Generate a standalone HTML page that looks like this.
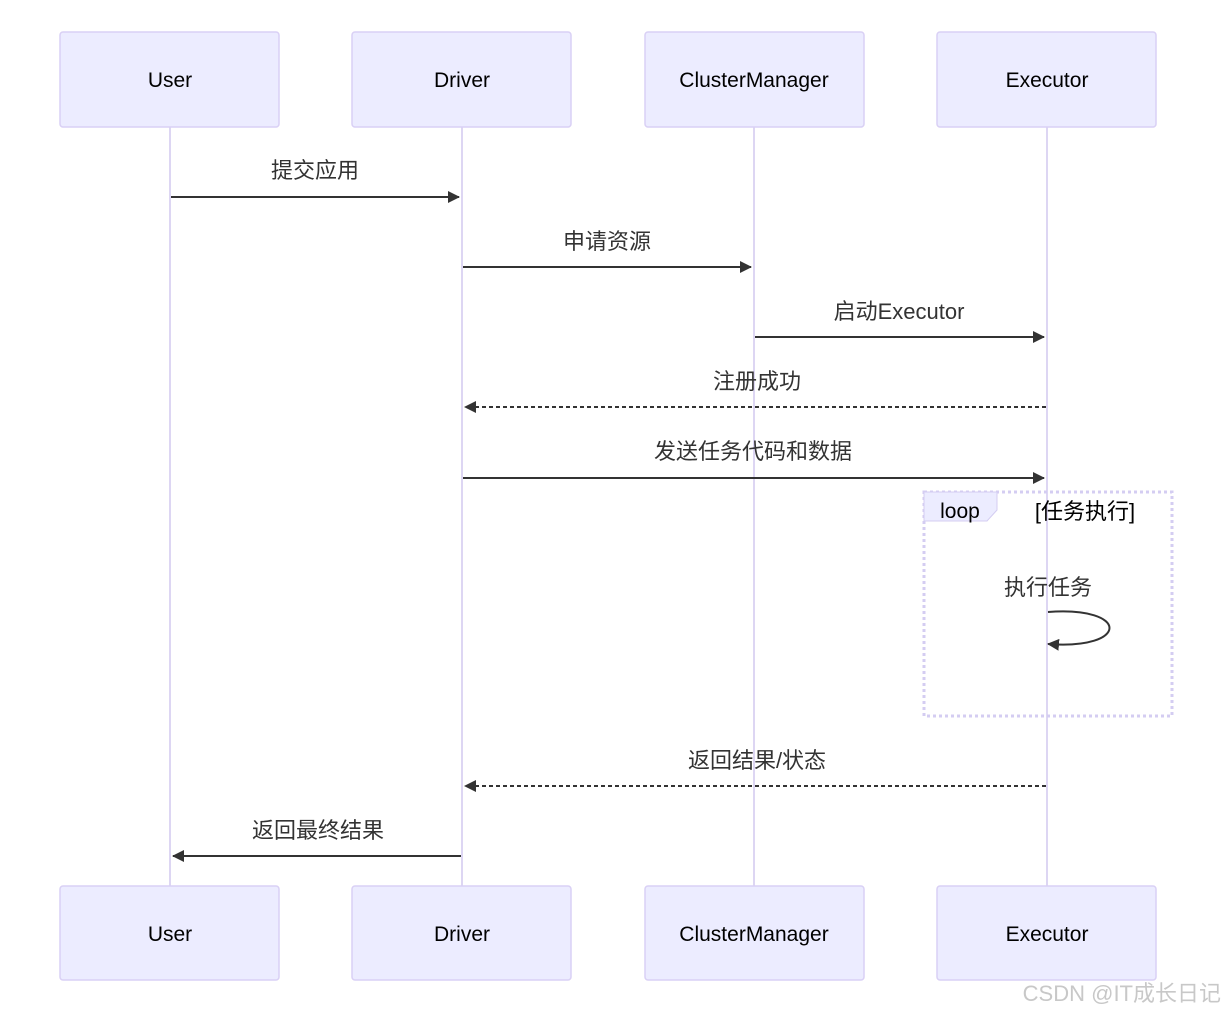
<!DOCTYPE html>
<html><head><meta charset="utf-8"><style>
html,body{margin:0;padding:0;background:#fff;}
svg{display:block;}
text{font-family:"Liberation Sans","Noto Sans CJK SC",sans-serif;}
</style></head><body>
<svg width="1226" height="1012" viewBox="0 0 1226 1012" xmlns="http://www.w3.org/2000/svg">
<defs>
<marker id="ah" markerWidth="12" markerHeight="12" refX="11" refY="6" orient="auto" markerUnits="userSpaceOnUse">
<path d="M0,0 L12,6 L0,12 z" fill="#333"/></marker>
</defs>
<g stroke="#ddd6f3" stroke-width="2">
<line x1="170" y1="127" x2="170" y2="886"/>
<line x1="462" y1="127" x2="462" y2="886"/>
<line x1="754" y1="127" x2="754" y2="886"/>
<line x1="1047" y1="127" x2="1047" y2="886"/>
</g>
<g fill="#ececff" stroke="#d9d0f5" stroke-width="1.5">
<rect x="60" y="32" width="219" height="95" rx="3"/>
<rect x="352" y="32" width="219" height="95" rx="3"/>
<rect x="645" y="32" width="219" height="95" rx="3"/>
<rect x="937" y="32" width="219" height="95" rx="3"/>
<rect x="60" y="886" width="219" height="94" rx="3"/>
<rect x="352" y="886" width="219" height="94" rx="3"/>
<rect x="645" y="886" width="219" height="94" rx="3"/>
<rect x="937" y="886" width="219" height="94" rx="3"/>
</g>
<g font-size="21" fill="#000" text-anchor="middle">
<text x="170" y="87">User</text><text x="462" y="87">Driver</text>
<text x="754" y="87">ClusterManager</text><text x="1047" y="87">Executor</text>
<text x="170" y="941">User</text><text x="462" y="941">Driver</text>
<text x="754" y="941">ClusterManager</text><text x="1047" y="941">Executor</text>
</g>
<!-- loop -->
<rect x="924" y="492" width="248" height="224" fill="none" stroke="#d4cdf2" stroke-width="3" stroke-dasharray="3,3"/>
<path d="M924,492 H997 V510 L987,521 H924 z" fill="#ececff" stroke="#d4cdf2" stroke-width="1"/>
<text x="960" y="518" font-size="21" text-anchor="middle" fill="#000">loop</text>
<text x="1085" y="519" font-size="22" text-anchor="middle" fill="#000">[任务执行]</text>
<g stroke="#333" stroke-width="2" fill="none">
<line x1="171" y1="197" x2="459" y2="197" marker-end="url(#ah)"/>
<line x1="463" y1="267" x2="751" y2="267" marker-end="url(#ah)"/>
<line x1="755" y1="337" x2="1044" y2="337" marker-end="url(#ah)"/>
<line x1="1046" y1="407" x2="465" y2="407" stroke-dasharray="4,3" marker-end="url(#ah)"/>
<line x1="463" y1="478" x2="1044" y2="478" marker-end="url(#ah)"/>
<path d="M1048,612 C1130,606 1130,650 1048,644" marker-end="url(#ah)"/>
<line x1="1046" y1="786" x2="465" y2="786" stroke-dasharray="4,3" marker-end="url(#ah)"/>
<line x1="461" y1="856" x2="173" y2="856" marker-end="url(#ah)"/>
</g>
<g font-size="22" fill="#333" text-anchor="middle">
<text x="315" y="178">提交应用</text>
<text x="607" y="249">申请资源</text>
<text x="899" y="319">启动Executor</text>
<text x="757" y="389">注册成功</text>
<text x="753" y="459">发送任务代码和数据</text>
<text x="1048" y="595">执行任务</text>
<text x="757" y="768">返回结果/状态</text>
<text x="318" y="838">返回最终结果</text>
</g>
<text x="1221" y="1001" font-size="22" text-anchor="end" fill="#c8c8c8">CSDN @IT成长日记</text>
</svg>
</body></html>
